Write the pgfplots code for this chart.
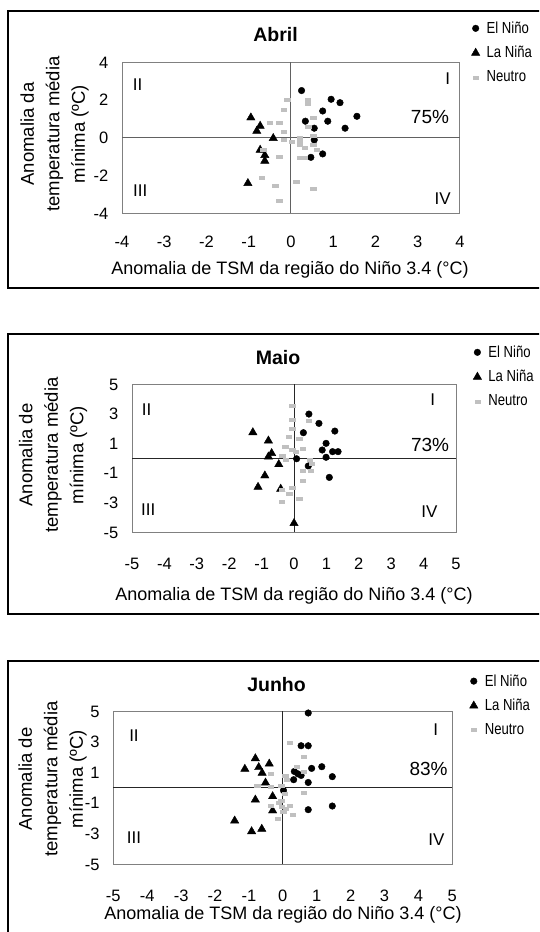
\documentclass[border=0pt]{standalone}
\usepackage{fontspec}
\setmainfont{Liberation Sans}
\newfontfamily\narrowfont{Liberation Sans}[FakeStretch=0.82]
\usepackage{pgfplots}
\pgfplotsset{compat=1.18}
\usepackage{pgfplotstable}
\definecolor{neutro}{RGB}{192,192,192}
\definecolor{frame}{RGB}{128,128,128}

% ---------- Abril ----------
\pgfplotstableread{
x y
0.25 2.49
0.95 2.03
1.16 1.85
0.75 1.41
1.56 1.13
0.34 0.87
0.87 0.87
0.55 0.50
1.28 0.50
0.55 -0.12
0.75 -0.86
0.47 -1.04
}\abrilEN
\pgfplotstableread{
x y
-0.95 1.06
-0.73 0.62
-0.81 0.35
-0.42 -0.03
-0.73 -0.65
-0.62 -0.93
-0.62 -1.23
-1.02 -2.41
}\abrilLN
\pgfplotstableread{
x y
-0.09 2.00
0.40 2.03
0.40 1.78
-0.17 1.50
0.53 1.03
-0.50 0.79
-0.28 0.79
0.41 0.58
-0.17 0.32
0.53 0.09
0.20 0.02
-0.17 -0.12
0.02 -0.21
0.20 -0.21
0.20 -0.39
0.33 -0.51
0.53 -0.39
0.61 -0.65
-0.66 -0.62
-0.28 -1.00
0.21 -1.04
0.33 -1.04
-0.69 -2.13
-0.37 -2.52
0.12 -2.33
0.53 -2.68
-0.28 -3.33
}\abrilNE

% ---------- Maio ----------
\pgfplotstableread{
x y
0.46 2.97
0.77 2.34
1.26 1.82
0.29 1.71
0.99 0.99
0.87 0.54
1.19 0.43
1.36 0.43
0.99 0.05
0.08 -0.05
0.44 -0.54
1.09 -1.31
}\maioEN
\pgfplotstableread{
x y
-1.27 1.73
-0.79 1.17
-0.69 0.32
-0.79 0.09
-0.47 -0.43
-0.90 -1.19
-1.11 -1.96
-0.41 -2.09
0.00 -4.41
}\maioLN
\pgfplotstableread{
x y
-0.05 3.54
-0.05 2.61
0.46 2.50
-0.05 2.00
-0.16 1.44
0.16 1.33
-0.27 0.77
-0.05 0.54
0.05 0.43
0.27 0.65
-0.36 0.16
-0.26 -0.14
0.49 -0.14
0.55 -0.36
0.27 -0.88
0.52 -0.88
0.27 -1.55
-0.05 -2.00
-0.38 -2.16
-0.15 -2.39
0.16 -2.72
-0.38 -2.95
}\maioNE

% ---------- Junho ----------
\pgfplotstableread{
x y
0.75 4.87
0.54 2.73
0.75 2.73
0.85 1.25
1.15 1.36
0.34 1.05
0.44 0.90
0.54 0.79
0.32 0.51
0.75 0.33
1.46 0.71
0.02 -0.19
0.75 -1.45
1.46 -1.21
}\junhoEN
\pgfplotstableread{
x y
-0.81 1.90
-0.40 1.55
-1.12 1.21
-0.71 1.32
-0.61 0.95
-0.51 0.31
-0.30 -0.58
-0.81 -0.80
-0.30 -1.51
-1.42 -2.17
-0.92 -2.87
-0.62 -2.71
}\junhoLN
\pgfplotstableread{
x y
0.20 2.95
0.62 2.03
0.41 1.36
0.62 1.05
-0.35 0.92
0.07 0.77
0.12 0.51
-0.76 0.12
-0.35 0.04
-0.05 0.09
0.06 -0.38
0.62 -0.32
-0.05 -0.85
-0.35 -1.19
-0.04 -1.27
0.20 -1.19
0.09 -1.41
0.30 -1.75
-0.15 -2.02
-0.12 -1.01
0.01 -1.56
}\junhoNE

\pgfplotsset{
  panel/.style={
    scale only axis, anchor=south west, clip=false,
    axis line style={draw=frame, line width=1pt},
    tick style={draw=none}, major tick length=0pt,
    /pgf/number format/assume math mode=true,
    tick label style={font=\fontsize{16.5}{18}\selectfont, inner sep=0pt},
    yticklabel style={anchor=base east, xshift=-13.5pt, yshift=-6pt},
    extra x ticks={0}, extra y ticks={0},
    extra x tick labels={}, extra y tick labels={},
    legend style={draw=none, fill=none, inner sep=0pt, anchor=north west,
      font=\narrowfont\fontsize{16}{18}\selectfont,
      nodes={inner sep=3pt}, row sep=5.5pt},
    legend cell align=left,
    legend image code/.code={\path[draw=none,fill=none] (0pt,-4pt) rectangle (13pt,4pt);
      \draw[##1, only marks] plot coordinates {(5pt,0pt)};},
  },
  en/.style={only marks, mark=*, mark size=3.3pt, black},
  ln/.style={only marks, mark=triangle*, mark size=4.8pt, black},
  ne/.style={only marks, mark=square*, mark size=2.7pt, color=neutro,
    mark options={yscale=0.55, draw=none, fill=neutro}},
}
\tikzset{
  quad/.style={font=\fontsize{17}{19}\selectfont, inner sep=0pt},
  pct/.style={font=\fontsize{19}{21}\selectfont, inner sep=0pt},
  ttl/.style={font=\bfseries\fontsize{19.5}{22}\selectfont},
  xlab/.style={font=\fontsize{18}{20}\selectfont},
  ylab/.style={rotate=90, align=center, font=\fontsize{18.5}{25.5}\selectfont},
}

\begin{document}
\begin{tikzpicture}
\path[use as bounding box] (0pt,0pt) rectangle (539pt,-932pt);
\clip (0pt,0pt) rectangle (539pt,-932pt);

% outer boxes
\draw[line width=1.3pt] (8pt,-11pt) rectangle (560pt,-288pt);
\draw[line width=1.3pt] (8pt,-334pt) rectangle (560pt,-614pt);
\draw[line width=1.3pt] (8pt,-661pt) rectangle (560pt,-960pt);

% ===== Abril =====
\begin{axis}[panel,
  at={(122pt,-213.3pt)}, width=338pt, height=151.3pt,
  xmin=-4, xmax=4, ymin=-4, ymax=4,
  xtick={-4,...,4}, ytick={-4,-2,...,4},
  xticklabel style={anchor=base, yshift=-34pt},
  extra tick style={grid=major, major grid style={draw=black!62, line width=1pt}},
  legend style={at={(axis description cs:1.031,1.287)}},
]
\addplot[en] table {\abrilEN};
\addplot[ln] table {\abrilLN};
\addplot[ne] table {\abrilNE};
\legend{El Niño, La Niña, Neutro}
\node[quad] at (axis cs:-3.63,2.79) {II};
\node[quad] at (axis cs:-3.57,-2.80) {III};
\node[quad] at (axis cs:3.71,3.12) {I};
\node[quad] at (axis cs:3.59,-3.21) {IV};
\node[pct] at (axis cs:3.29,1.08) {75\%};
\end{axis}
\node[ttl] at (275.5pt,-35pt) {Abril};
\node[ylab] at (54.5pt,-134pt) {Anomalia da\\temperatura média\\mínima (ºC)};
\node[xlab] at (290pt,-270pt) {Anomalia de TSM da região do Niño 3.4 (°C)};

% ===== Maio =====
\begin{axis}[panel,
  at={(132pt,-532pt)}, width=324pt, height=148pt,
  xmin=-5, xmax=5, ymin=-5, ymax=5,
  xtick={-5,...,5}, ytick={-5,-3,...,5},
  xticklabel style={anchor=base, yshift=-37pt},
  extra tick style={grid=major, major grid style={draw=black!85, line width=1pt}},
  legend style={at={(axis description cs:1.05,1.28)}},
]
\addplot[en] table {\maioEN};
\addplot[ln] table {\maioLN};
\addplot[ne] table {\maioNE};
\legend{El Niño, La Niña, Neutro}
\node[quad] at (axis cs:-4.55,3.24) {II};
\node[quad] at (axis cs:-4.50,-3.51) {III};
\node[quad] at (axis cs:4.28,3.92) {I};
\node[quad] at (axis cs:4.18,-3.63) {IV};
\node[pct] at (axis cs:4.20,0.88) {73\%};
\end{axis}
\node[ttl] at (278pt,-358pt) {Maio};
\node[ylab] at (53pt,-455pt) {Anomalia de\\temperatura média\\mínima (ºC)};
\node[xlab] at (294pt,-596pt) {Anomalia de TSM da região do Niño 3.4 (°C)};

% ===== Junho =====
\begin{axis}[panel,
  at={(113.3pt,-864pt)}, width=339pt, height=153pt,
  xmin=-5, xmax=5, ymin=-5, ymax=5,
  xtick={-5,...,5}, ytick={-5,-3,...,5},
  xticklabel style={anchor=base, yshift=-37pt},
  extra tick style={grid=major, major grid style={draw=black!85, line width=1pt}},
  legend style={at={(axis description cs:1.048,1.259)}},
]
\addplot[en] table {\junhoEN};
\addplot[ln] table {\junhoLN};
\addplot[ne] table {\junhoNE};
\legend{El Niño, La Niña, Neutro}
\node[quad] at (axis cs:-4.39,3.39) {II};
\node[quad] at (axis cs:-4.39,-3.30) {III};
\node[quad] at (axis cs:4.51,3.78) {I};
\node[quad] at (axis cs:4.53,-3.41) {IV};
\node[pct] at (axis cs:4.30,1.21) {83\%};
\end{axis}
\node[ttl] at (276.5pt,-685pt) {Junho};
\node[ylab] at (52.5pt,-779pt) {Anomalia de\\temperatura média\\mínima (ºC)};
\node[xlab] at (283pt,-915pt) {Anomalia de TSM da região do Niño 3.4 (°C)};
\end{tikzpicture}
\end{document}
